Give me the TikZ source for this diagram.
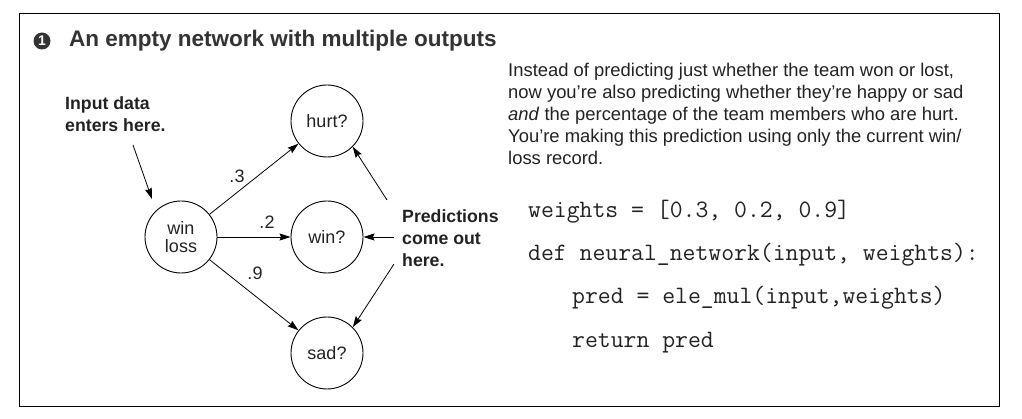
\documentclass[tikz,border=0pt]{standalone}
\usepackage{fontspec}
\setmainfont{Liberation Sans}
\usetikzlibrary{arrows.meta}
\definecolor{txt}{HTML}{222222}
\definecolor{ttl}{HTML}{333333}
\tikzset{
  neuron/.style={circle,draw,line width=0.9pt,minimum size=72pt,inner sep=0pt,font=\fontsize{18}{20}\selectfont,text=txt,align=center},
  conn/.style={line width=0.8pt,-{Stealth[length=11pt,width=7pt,inset=1.5pt]}},
  note/.style={font=\fontsize{17.7}{22}\selectfont\bfseries,text=txt,align=left,inner sep=0pt},
  wlabel/.style={font=\fontsize{18}{20}\selectfont,text=txt,inner sep=0pt},
  code/.style={font=\fontsize{25}{26}\ttfamily,text=txt,anchor=west,inner sep=0pt},
}
\begin{document}
\begin{tikzpicture}[x=1pt,y=-1pt]
\useasboundingbox (0,0) rectangle (1022,419);
\draw[line width=1pt] (19,14) rectangle (999,406);
% title
\node[circle,fill=ttl,minimum size=17pt,inner sep=0pt,text=white,font=\fontsize{14}{14}\selectfont\bfseries] (num) at (42,41) {1};
\node[anchor=west,inner sep=0pt,text=ttl,font=\fontsize{22.5}{24}\selectfont\bfseries] (title) at (69,41) {An empty network with multiple outputs};
% nodes
\node[neuron] (in) at (181,237) {win\\[-2pt]loss};
\node[neuron] (hurt) at (327,121) {hurt?};
\node[neuron] (win) at (327,237) {win?};
\node[neuron] (sad) at (327,353) {sad?};
\draw[conn] (in) -- (hurt);
\draw[conn] (in) -- (win);
\draw[conn] (in) -- (sad);
\node[wlabel] (l3) at (237,176) {.3};
\node[wlabel] (l2) at (267,222) {.2};
\node[wlabel] (l9) at (255,273) {.9};
% notes
\node[note,anchor=north west] (inote) at (65,96) {Input data\\enters here.};
\coordinate (ia) at (133,145);
\draw[conn] (ia) -- (152,199);
\node[note,anchor=west] (pnote) at (402,238) {Predictions\\come out\\here.};
\coordinate (p1) at (387,200);
\coordinate (p2) at (394,237);
\coordinate (p3) at (394,264);
\draw[conn] (p1) -- (hurt.-45);
\draw[conn] (p2) -- (win);
\draw[conn] (p3) -- (sad.45);
% paragraph
\node[anchor=north west,inner sep=0pt,align=left,text=txt,font=\fontsize{18.4}{22}\selectfont] (para) at (508,63)
{Instead of predicting just whether the team won or lost,\\
now you’re also predicting whether they’re happy or sad\\
\textit{and} the percentage of the team members who are hurt.\\
You’re making this prediction using only the current win/\\
loss record.};
% code
\node[code] (c1) at (528,212) {weights = [0.3, 0.2, 0.9]};
\node[code] (c2) at (528,255) {def neural\_network(input, weights):};
\node[code] (c3) at (572,298) {pred = ele\_mul(input,weights)};
\node[code] (c4) at (572,343) {return pred};
\end{tikzpicture}
\end{document}
